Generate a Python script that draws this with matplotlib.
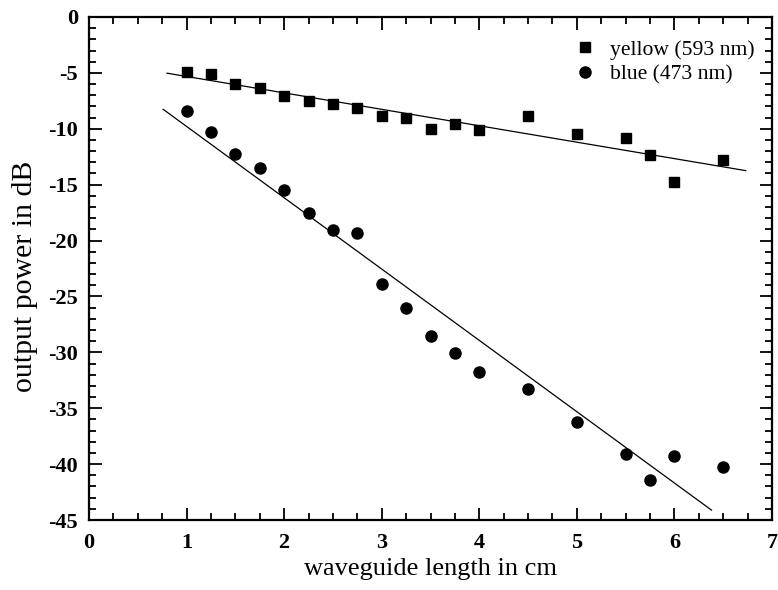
import matplotlib
matplotlib.use("Agg")
import matplotlib.pyplot as plt
from matplotlib.ticker import MultipleLocator
import numpy as np

# Data
length_cm = [1.0, 1.25, 1.5, 1.75, 2.0, 2.25, 2.5, 2.75, 3.0, 3.25, 3.5, 3.75, 4.0, 4.5, 5.0, 5.5, 5.75, 6.0, 6.5]
yellow_db = [-4.9, -5.1, -6.0, -6.35, -7.05, -7.5, -7.75, -8.15, -8.9, -9.05, -10.0, -9.6, -10.15, -8.9, -10.5, -10.8, -12.35, -14.75, -12.8]
blue_db = [-8.45, -10.3, -12.25, -13.55, -15.45, -17.5, -19.05, -19.3, -23.9, -26.05, -28.5, -30.05, -31.8, -33.3, -36.25, -39.1, -41.45, -39.3, -40.25]

# Linear fits (slope, intercept, x range)
yellow_fit = (-1.47, -3.85)
yellow_fit_range = (0.8, 6.73)
blue_fit = (-6.38, -3.41)
blue_fit_range = (0.76, 6.38)

plt.rcParams['font.family'] = ['Liberation Serif', 'DejaVu Serif']
plt.rcParams['axes.unicode_minus'] = False

fig = plt.figure(figsize=(7.78, 5.90), dpi=100)
ax = fig.add_axes([0.1144, 0.1186, 0.8779, 0.8526])

ax.plot(length_cm, yellow_db, 's', color='black', markersize=7.5, label='yellow (593 nm)', zorder=3)
ax.plot(length_cm, blue_db, 'o', color='black', markersize=8, label='blue (473 nm)', zorder=3)

xf = np.array(yellow_fit_range)
ax.plot(xf, yellow_fit[0] * xf + yellow_fit[1], '-', color='black', linewidth=0.9)
xb = np.array(blue_fit_range)
ax.plot(xb, blue_fit[0] * xb + blue_fit[1], '-', color='black', linewidth=0.9)

ax.set_xlim(0, 7)
ax.set_ylim(-45, 0)
ax.xaxis.set_major_locator(MultipleLocator(1))
ax.xaxis.set_minor_locator(MultipleLocator(0.25))
ax.yaxis.set_major_locator(MultipleLocator(5))
ax.yaxis.set_minor_locator(MultipleLocator(1))

ax.tick_params(which='both', direction='in', top=True, right=True, width=1.3,
               labelsize=16)
ax.tick_params(axis='x', which='major', pad=9)
ax.tick_params(axis='y', which='major', pad=8)
ax.tick_params(which='major', length=9)
ax.tick_params(which='minor', length=5)
for lab in ax.get_xticklabels() + ax.get_yticklabels():
    lab.set_fontweight('bold')
for sp in ax.spines.values():
    sp.set_linewidth(1.6)

ax.set_xlabel('waveguide length in cm', fontsize=19, labelpad=4)
ax.set_ylabel('output power in dB', fontsize=21.5, labelpad=2)
ax.yaxis.set_label_coords(-0.075, 0.485)

leg = ax.legend(loc='upper right', bbox_to_anchor=(0.997, 0.985), frameon=False,
                fontsize=15.6, handletextpad=0.55, borderaxespad=0.3,
                labelspacing=0.2, handlelength=1.2)

fig.savefig('out.png', dpi=100)
